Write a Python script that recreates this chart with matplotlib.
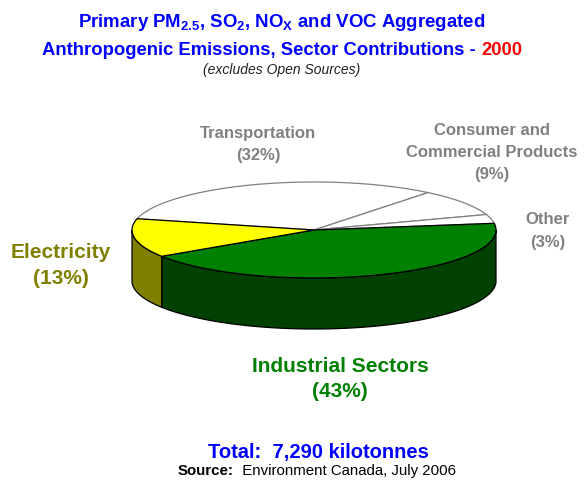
import numpy as np
import matplotlib
matplotlib.use("Agg")
import matplotlib.pyplot as plt
from matplotlib.patches import Polygon

# ---- data ----
sectors = ["Industrial Sectors", "Electricity", "Transportation",
           "Consumer and Commercial Products", "Other"]
shares = [43, 13, 32, 9, 3]
label_lines = [["Industrial Sectors", "(43%)"],
               ["Electricity", "(13%)"],
               ["Transportation", "(32%)"],
               ["Consumer and", "Commercial Products", "(9%)"],
               ["Other", "(3%)"]]
top_colors = ["#008000", "#FFFF00", "#FFFFFF", "#FFFFFF", "#FFFFFF"]
wall_colors = ["#004000", "#808000", "#FFFFFF", "#FFFFFF", "#FFFFFF"]
edge_colors = ["black", "black", "#808080", "#808080", "#808080"]
label_colors = ["#008000", "#808000", "#808080", "#808080", "#808080"]
title1 = r"Primary PM$_{\mathrm{2.5}}$, SO$_{\mathrm{2}}$, NO$_{\mathrm{X}}$ and VOC Aggregated"
title2a = "Anthropogenic Emissions, Sector Contributions - "
title2b = "2000"
subtitle = "(excludes Open Sources)"
total_text = "Total:  7,290 kilotonnes"
source_a = "Source:"
source_b = "  Environment Canada, July 2006"

# ---- layout ----
W, H = 588, 485
plt.rcParams["font.family"] = ["Liberation Sans", "DejaVu Sans"]
plt.rcParams["mathtext.fontset"] = "custom"
plt.rcParams["mathtext.rm"] = "Liberation Sans:bold"
plt.rcParams["mathtext.it"] = "Liberation Sans:bold"
plt.rcParams["mathtext.bf"] = "Liberation Sans:bold"

fig = plt.figure(figsize=(W / 100, H / 100), dpi=100)
fig.patch.set_facecolor("white")
ax = fig.add_axes([0, 0, 1, 1])
ax.set_axis_off()

scale = 182.0            # px per unit (radius)
cx, cy = 314.0, 231.0    # pie centre in px (from top)
ax.set_xlim(-cx / scale, (W - cx) / scale)
ax.set_ylim(-(H - cy) / scale, cy / scale)
k = 48.0 / scale          # vertical squash of top face
depth = 51.0 / scale      # wall height
start = 8.0               # degrees, wedges go clockwise

fr = np.cumsum([0] + shares) / float(sum(shares))
theta = start - 360.0 * fr   # boundaries


def arc(t1, t2, n=200):
    t = np.radians(np.linspace(t1, t2, n))
    return np.cos(t), k * np.sin(t)


def px(x, y):
    return x / W, 1 - y / H


# walls (front half only)
for i in range(len(shares)):
    hi, lo = theta[i], theta[i + 1]
    for kk in (-1, 0, 1):
        a, b = -180 + 360 * kk, 0 + 360 * kk
        s, e = max(lo, a), min(hi, b)
        if e > s:
            xs, ys = arc(e, s)
            pts = np.column_stack([np.r_[xs, xs[::-1]],
                                   np.r_[ys, ys[::-1] - depth]])
            ax.add_patch(Polygon(pts, closed=True, facecolor=wall_colors[i],
                                 edgecolor="black", lw=0.9, zorder=2))

# top faces: white ones first, coloured ones on top
order = sorted(range(len(shares)), key=lambda i: top_colors[i] != "#FFFFFF")
for i in order:
    xs, ys = arc(theta[i], theta[i + 1])
    pts = np.column_stack([np.r_[0, xs], np.r_[0, ys]])
    ax.add_patch(Polygon(pts, closed=True, facecolor=top_colors[i],
                         edgecolor=edge_colors[i], lw=0.9, zorder=3,
                         joinstyle="round"))

# labels (centre x, first baseline y, line step) in px
label_pos = [(340, 372, 25), (61, 258, 26), (258, 138, 22),
             (492, 135, 22), (548, 224, 23)]
label_size = [15, 15, 12, 12, 12]
for i in range(len(shares)):
    x0, y0, step = label_pos[i]
    for j, line in enumerate(label_lines[i]):
        fig.text(*px(x0, y0 + j * step), line, ha="center", va="baseline",
                 fontsize=label_size[i], fontweight="bold",
                 color=label_colors[i])

# titles
fig.text(*px(282, 27), title1, ha="center", va="baseline", fontsize=13.4,
         fontweight="bold", color="#0000FF")

renderer = fig.canvas.get_renderer()
ta = fig.text(0, 0, title2a, fontsize=13.3, fontweight="bold", color="#0000FF",
              va="baseline")
tb = fig.text(0, 0, title2b, fontsize=13.3, fontweight="bold", color="#FF0000",
              va="baseline")
wa = ta.get_window_extent(renderer).width
wb = tb.get_window_extent(renderer).width
x_left = 282 - (wa + wb) / 2
ta.set_position(px(x_left, 55))
tb.set_position(px(x_left + wa, 55))

fig.text(*px(282, 74), subtitle, ha="center", va="baseline", fontsize=10,
         fontstyle="italic", color="#202020")

fig.text(*px(318, 458), total_text, ha="center", va="baseline", fontsize=14.5,
         fontweight="bold", color="#0000FF")

sa = fig.text(0, 0, source_a, fontsize=10.8, fontweight="bold", color="black",
              va="baseline")
sb = fig.text(0, 0, source_b, fontsize=10.8, color="black", va="baseline")
wsa = sa.get_window_extent(renderer).width
wsb = sb.get_window_extent(renderer).width
xs0 = 317 - (wsa + wsb) / 2
sa.set_position(px(xs0, 475))
sb.set_position(px(xs0 + wsa, 475))

fig.savefig("out.png", dpi=100, facecolor="white")
